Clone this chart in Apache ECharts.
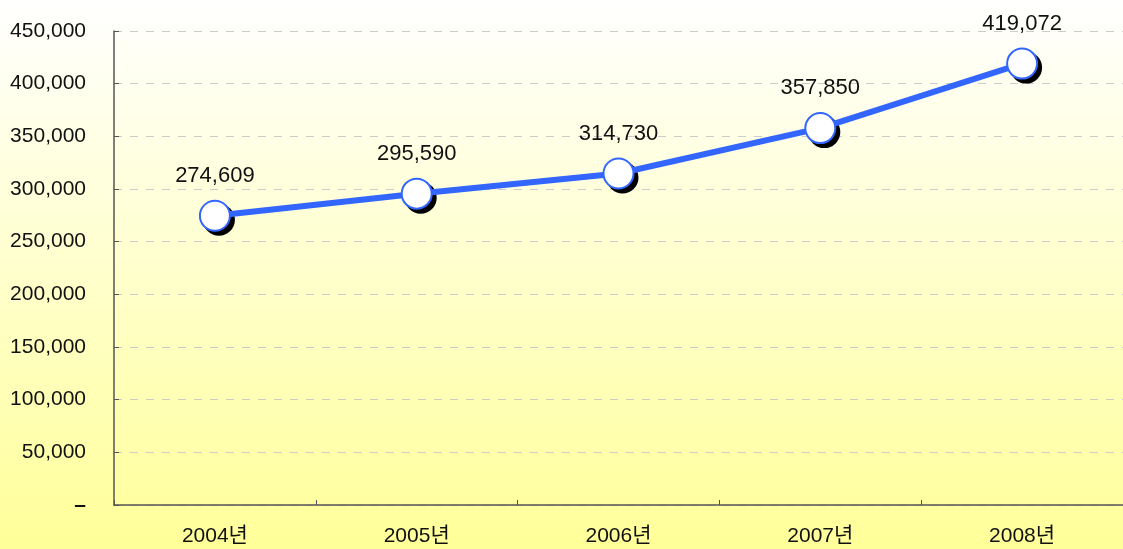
<!DOCTYPE html>
<html><head><meta charset="utf-8">
<script src="https://cdn.jsdelivr.net/npm/echarts@6/dist/echarts.min.js"></script>
<style>html,body{margin:0;padding:0;}#c{width:1123px;height:549px;}</style>
</head><body><div id="c"></div>
<script>
const categories = ['2004년','2005년','2006년','2007년','2008년'];
const values = [274609, 295590, 314730, 357850, 419072];
const yTicks = [0,50000,100000,150000,200000,250000,300000,350000,400000,450000];

const fontFam = '"Liberation Sans","Noto Sans CJK KR",sans-serif';
const chart = echarts.init(document.getElementById('c'));
chart.setOption({
  backgroundColor: new echarts.graphic.LinearGradient(0,0,0,1,[
    {offset:0,color:'#ffffff'},{offset:1,color:'#ffff99'}]),
  animation:false,
  grid:{left:114,right:-1,top:31,bottom:44,containLabel:false},
  xAxis:{type:'category',data:categories,boundaryGap:true,
    axisLine:{lineStyle:{color:'#555',width:1.5}},
    axisTick:{show:true,inside:true,length:5,lineStyle:{color:'#555'}},
    axisLabel:{color:'#111',fontSize:21,fontFamily:fontFam,margin:21},
    splitLine:{show:false}},
  yAxis:{type:'value',min:yTicks[0],max:yTicks[yTicks.length-1],interval:yTicks[1]-yTicks[0],
    axisLine:{show:true,lineStyle:{color:'#555',width:1.5}},
    axisTick:{show:true,inside:true,length:5,lineStyle:{color:'#555'}},
    axisLabel:{color:'#111',fontSize:21,fontFamily:fontFam,margin:28,
      formatter:v=> v===0 ? '{z|–}' : v.toLocaleString('en-US'),
      rich:{z:{fontSize:21,fontWeight:'bold',color:'#111',fontFamily:fontFam}}},
    splitLine:{show:true,lineStyle:{color:'#cccccc',type:[8,8],width:1}}},
  series:[
    {type:'line',data:values,z:1,silent:true,
     lineStyle:{opacity:0},
     symbol:'circle',symbolSize:32,symbolOffset:[4,4],
     itemStyle:{color:'#000000',borderWidth:0},
     label:{show:false}},
    {type:'line',data:values,z:2,
     lineStyle:{color:'#3366ff',width:6},
     symbol:'circle',symbolSize:30,
     itemStyle:{color:'#ffffff',borderColor:'#3366ff',borderWidth:2},
     label:{show:true,position:'top',distance:13,color:'#111',fontSize:22,fontFamily:fontFam,
       formatter:p=>p.value.toLocaleString('en-US')}
    }]
});
</script></body></html>
